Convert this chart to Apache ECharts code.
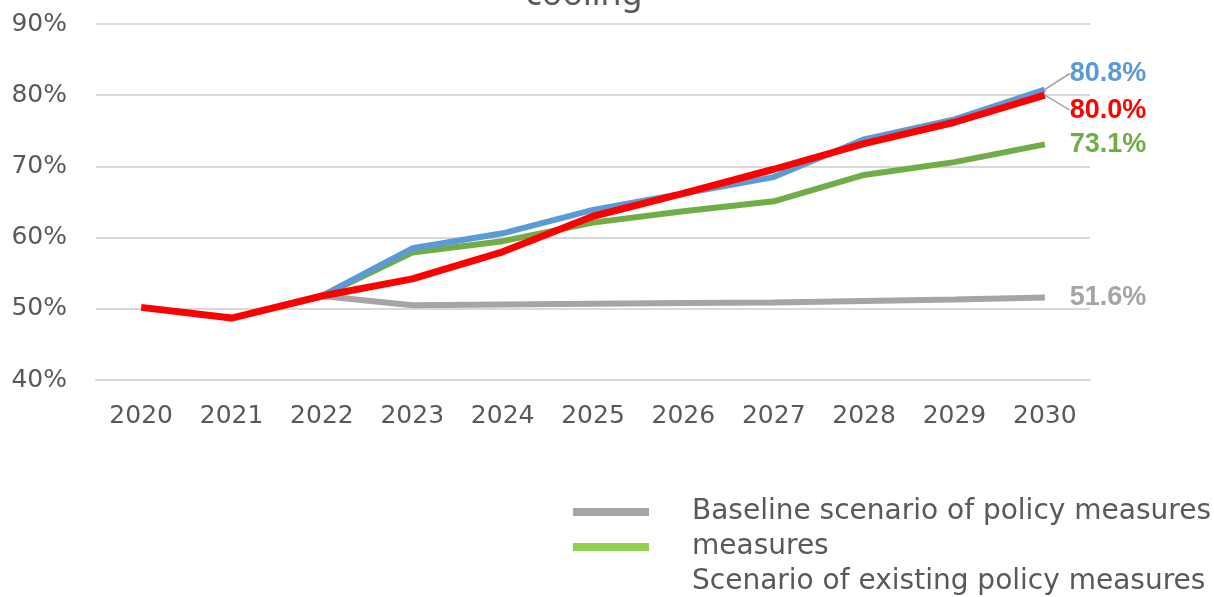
<!DOCTYPE html>
<html>
<head>
<meta charset="utf-8">
<script src="https://cdn.jsdelivr.net/npm/echarts@6/dist/echarts.min.js"></script>
<style>
  html, body { margin: 0; padding: 0; background: #fff; }
  #chart { width: 1214px; height: 597px; }
</style>
</head>
<body>
<div id="chart"></div>
<script>
const years = ["2020", "2021", "2022", "2023", "2024", "2025", "2026", "2027", "2028", "2029", "2030"];

// shares in %
const baseline = [null, null, 51.8, 50.5, 50.6, 50.7, 50.8, 50.9, 51.1, 51.3, 51.6];
const measures = [null, null, 51.8, 57.9, 59.5, 62.1, 63.7, 65.1, 68.8, 70.6, 73.1];
const additional = [null, null, 51.8, 58.5, 60.6, 63.9, 66.2, 68.5, 73.8, 76.6, 80.8];
const existing = [50.2, 48.7, 51.8, 54.2, 58.0, 63.0, 66.2, 69.6, 73.2, 76.2, 80.0];

const yTicks = [40, 50, 60, 70, 80, 90];

const font = "DejaVu Sans";
const lastIdx = years.length - 1;

function withEndLabel(values, color) {
  return values.map((v, i) => {
    if (i !== lastIdx) return v;
    return {
      value: v,
      label: {
        show: true,
        position: "right",
        distance: 25,
        formatter: (p) => p.value.toFixed(1) + "%",
        color: color,
        fontFamily: "Liberation Sans",
        fontWeight: "bold",
        fontSize: 27,
      },
    };
  });
}

function lineSeries(name, values, color, width) {
  return {
    name: name,
    type: "line",
    data: withEndLabel(values, color),
    symbol: "circle",
    symbolSize: 0,
    showSymbol: true,
    lineStyle: { color: color, width: width },
    itemStyle: { color: color },
  };
}

const chart = echarts.init(document.getElementById("chart"));

const blue = lineSeries("Scenario of additional policy measures", additional, "#5B9BD5", 6);
blue.labelLayout = { dy: -16 };
blue.labelLine = { show: true, lineStyle: { color: "#A5A5A5", width: 1.5 } };

const red = lineSeries("Scenario of existing policy measures", existing, "#FF0000", 7);
red.labelLayout = { dy: 15 };
red.labelLine = { show: true, lineStyle: { color: "#A5A5A5", width: 1.5 } };

chart.setOption({
  backgroundColor: "#fff",
  animation: false,

  title: {
    text: "cooling",
    left: 579,
    top: -27,
    textAlign: "center",
    textStyle: { fontFamily: "Noto Sans", fontSize: 34, fontWeight: "normal", color: "#595959" },
  },

  grid: { left: 96, right: 124, top: 24, bottom: 217 },

  legend: {
    orient: "vertical",
    left: 573,
    top: 498,
    padding: 0,
    itemWidth: 76,
    itemHeight: 8,
    itemGap: 7,
    icon: "rect",
    textStyle: {
      fontFamily: font,
      fontSize: 28,
      color: "#595959",
      padding: [0, 0, 0, 38],
    },
    data: [
      { name: "Baseline scenario of policy measures", itemStyle: { color: "#A5A5A5" } },
      { name: "measures", itemStyle: { color: "#92D050" } },
      { name: "Scenario of existing policy measures", itemStyle: { color: "rgba(0,0,0,0)" } },
    ],
  },

  xAxis: {
    type: "category",
    data: years,
    boundaryGap: true,
    axisLine: { show: true, lineStyle: { color: "#D9D9D9", width: 2 } },
    axisTick: { show: false },
    axisLabel: { color: "#595959", fontFamily: font, fontSize: 25, margin: 24 },
  },

  yAxis: {
    type: "value",
    min: yTicks[0],
    max: yTicks[yTicks.length - 1],
    interval: 10,
    axisLine: { show: false },
    axisTick: { show: false },
    axisLabel: {
      color: "#595959",
      fontFamily: font,
      fontSize: 25,
      margin: 29,
      formatter: "{value}%",
    },
    splitLine: { lineStyle: { color: "#D9D9D9", width: 2 } },
  },

  series: [
    lineSeries("Baseline scenario of policy measures", baseline, "#A5A5A5", 6),
    lineSeries("measures", measures, "#70AD47", 6),
    blue,
    red,
  ],
});

window.addEventListener("resize", () => chart.resize());
</script>
</body>
</html>
